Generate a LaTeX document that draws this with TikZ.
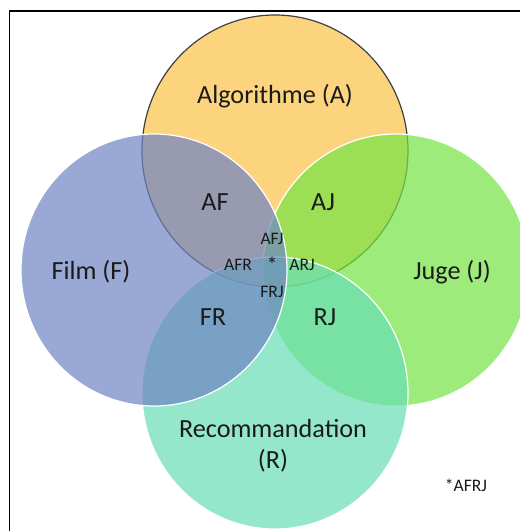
\documentclass[tikz,border=0pt]{standalone}
\usepackage{fontspec}
\setmainfont{Carlito}
\usepackage{tikz}

\definecolor{colA}{RGB}{252,194,72}
\definecolor{colF}{RGB}{110,132,196}
\definecolor{colJ}{RGB}{116,228,68}
\definecolor{colR}{RGB}{105,222,182}
\definecolor{txt}{RGB}{26,26,26}

\begin{document}
\begin{tikzpicture}[x=0.5pt, y=-0.5pt,
        set/.style={fill opacity=0.7, draw=white, line width=0.6pt},
        lbl/.style={font=\fontsize{13.1}{15.5}\selectfont, text=txt, align=center},
        sml/.style={font=\fontsize{8.8}{10}\selectfont, text=txt, inner sep=1pt}
    ]
        \clip (0,0) rectangle (520,531);
        \fill[white] (0,0) rectangle (520,531);
        \draw[line width=0.75pt] (9.5,11) rectangle (560,560);
        % centres
        \coordinate (cA) at (275,151);
        \coordinate (cF) at (154,270);
        \coordinate (cJ) at (396,270);
        \coordinate (cR) at (275,393);
        \filldraw[set, fill=colA, draw=black!75] (cA) ellipse [x radius=133, y radius=136];
        \filldraw[set, fill=colJ] (cJ) ellipse [x radius=133, y radius=136];
        \filldraw[set, fill=colR] (cR) ellipse [x radius=133, y radius=136];
        \filldraw[set, fill=colF] (cF) ellipse [x radius=133, y radius=136];
        % ensembles
        \node (lA) [lbl] at (275,96) {Algorithme (A)};
        \node (lF) [lbl] at (91,272) {Film (F)};
        \node (lJ) [lbl] at (452,272) {Juge (J)};
        \node (lR) [lbl] at (273,446) {Recommandation\\(R)};
        % intersections
        \node (AF) [lbl] at (215,202) {AF};
        \node (AJ) [lbl] at (323,202) {AJ};
        \node (FR) [lbl] at (213,317) {FR};
        \node (RJ) [lbl] at (325,317) {RJ};
        \node (AFJ) [sml] at (272,239) {AFJ};
        \node (AFR) [sml] at (238,265) {AFR};
        \node (ARJ) [sml] at (302,265) {ARJ};
        \node (FRJ) [sml] at (272,292) {FRJ};
        \node (AFRJ) [sml, font=\fontsize{11}{12}\selectfont] at (272,265) {*};
        \node (note) [sml] at (466,485) {*AFRJ};
    \end{tikzpicture}
\end{document}
